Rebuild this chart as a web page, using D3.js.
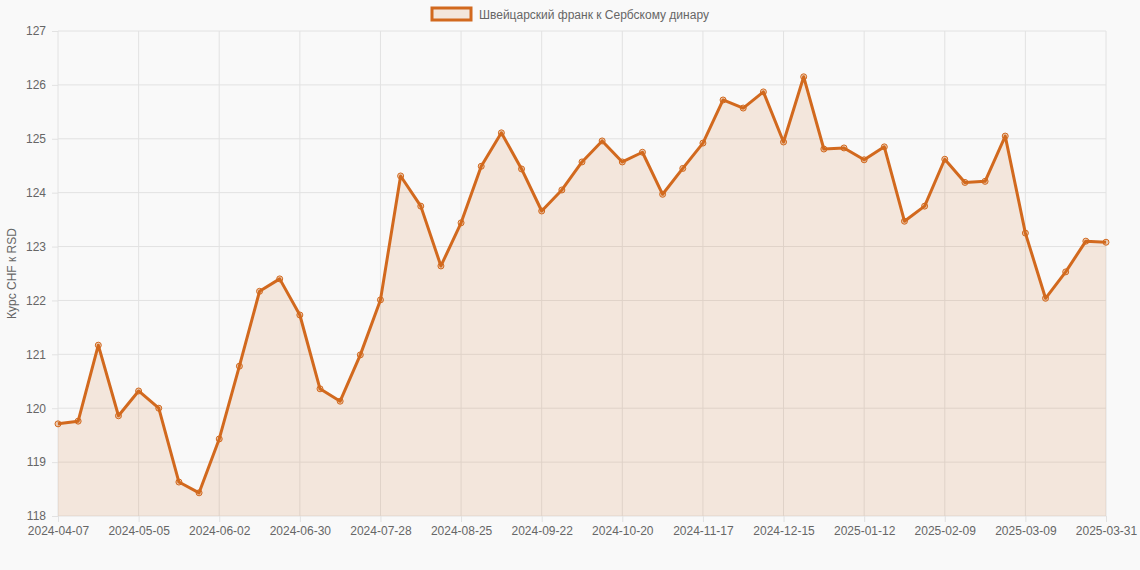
<!doctype html>
<html>
<head>
<meta charset="utf-8">
<script src="https://d3js.org/d3.v7.min.js"></script>
<style>
  body { margin: 0; background: #f9f9f9; }
  text { font-family: "Liberation Sans", Arial, sans-serif; fill: #666; }
  .grid line { stroke: #e2e2e2; }
  .axis path { display: none; }
  .axis line { stroke: #e2e2e2; }
</style>
</head>
<body>
<svg id="chart" width="1140" height="570"></svg>
<script>
var startDate = new Date(2024, 3, 7);
var dates = d3.range(52).map(function(i) { return d3.timeFormat("%Y-%m-%d")(d3.timeDay.offset(startDate, i * 7)); });
dates.push("2025-03-31");

var rates = [119.71, 119.76, 121.17, 119.86, 120.32, 120.00, 118.63, 118.43, 119.43, 120.78,
  122.17, 122.40, 121.73, 120.36, 120.13, 120.99, 122.01, 124.31, 123.75, 122.64,
  123.44, 124.49, 125.11, 124.44, 123.66, 124.05, 124.57, 124.96, 124.57, 124.75,
  123.97, 124.45, 124.92, 125.72, 125.57, 125.87, 124.94, 126.15, 124.81, 124.83,
  124.61, 124.85, 123.47, 123.75, 124.62, 124.19, 124.21, 125.05, 123.25, 122.04,
  122.53, 123.10, 123.08];

var yTicks = d3.range(118, 128);
var seriesName = "Швейцарский франк к Сербскому динару";
var color = "#d2691e";

var margin = {top: 31, right: 34, bottom: 54, left: 58},
    width = 1140 - margin.left - margin.right,
    height = 570 - margin.top - margin.bottom;

var svg = d3.select("#chart");
var g = svg.append("g").attr("transform", "translate(" + margin.left + "," + margin.top + ")");

var x = d3.scalePoint().domain(dates).range([0, width]);
var y = d3.scaleLinear().domain([118, 127]).range([height, 0]);

// grid
g.append("g").attr("class", "grid").selectAll("line").data(yTicks).enter().append("line")
  .attr("x1", 0).attr("x2", width).attr("y1", y).attr("y2", y);
var shown = dates.filter(function(d, i) { return i % 4 === 0 || i === dates.length - 1; });
g.append("g").attr("class", "grid").selectAll("line").data(shown).enter().append("line")
  .attr("x1", x).attr("x2", x).attr("y1", 0).attr("y2", height);

g.append("g").attr("class", "axis").attr("transform", "translate(0," + height + ")")
  .call(d3.axisBottom(x).tickValues(shown).tickSize(6).tickPadding(4))
  .selectAll("text").style("font-size", "12px").attr("fill", "#666");
g.append("g").attr("class", "axis")
  .call(d3.axisLeft(y).tickValues(yTicks).tickSize(6).tickPadding(6))
  .selectAll("text").style("font-size", "12px").attr("fill", "#666");

g.append("path").datum(rates)
  .attr("fill", "rgba(210,105,30,0.13)")
  .attr("d", d3.area().x(function(d, i) { return x(dates[i]); }).y0(height).y1(y));
g.append("path").datum(rates)
  .attr("fill", "none").attr("stroke", color).attr("stroke-width", 3).attr("stroke-linejoin", "round")
  .attr("d", d3.line().x(function(d, i) { return x(dates[i]); }).y(y));
g.selectAll("circle").data(rates).enter().append("circle")
  .attr("cx", function(d, i) { return x(dates[i]); }).attr("cy", y).attr("r", 3)
  .attr("fill", "rgba(210,105,30,0.3)").attr("stroke", color).attr("stroke-width", 1);

svg.append("text").attr("transform", "translate(16," + (margin.top + height / 2) + ") rotate(-90)")
  .attr("text-anchor", "middle").style("font-size", "12px").text("Курс CHF к RSD");

var leg = svg.append("g").attr("transform", "translate(432,8)");
leg.append("rect").attr("width", 39).attr("height", 12).attr("fill", "rgba(210,105,30,0.13)")
  .attr("stroke", color).attr("stroke-width", 3);
leg.append("text").attr("x", 47).attr("y", 11).style("font-size", "12px").text(seriesName);
</script>
</body>
</html>
